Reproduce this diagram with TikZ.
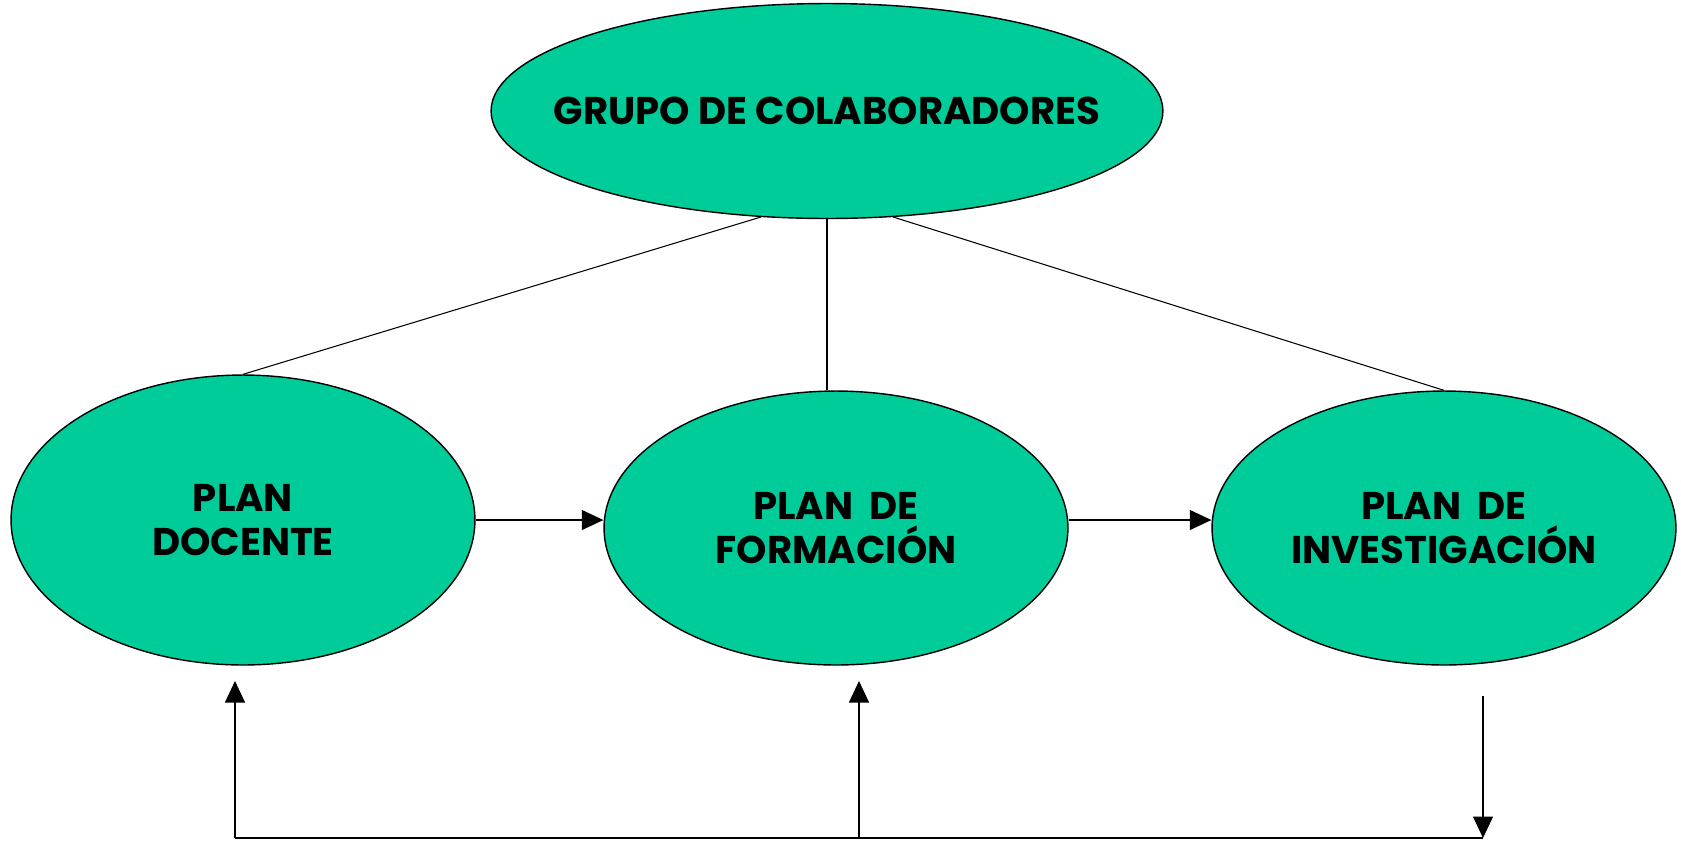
\documentclass[tikz,border=0pt]{standalone}
\usepackage{fontspec}
\setmainfont{Poppins}
\usetikzlibrary{arrows.meta,positioning,shapes.geometric}
\definecolor{verde}{RGB}{0,204,153}
\tikzset{
  plan/.style={ellipse,draw=black,line width=0.8pt,fill=verde,inner sep=0pt,
    minimum width=9.28cm,minimum height=5.48cm,align=center,
    font=\fontsize{22}{25.5}\selectfont\bfseries},
  enlace/.style={line width=0.6pt},
  flecha/.style={line width=0.6pt,-{Triangle[length=0.43cm,width=0.4cm]}}
}
\begin{document}
\begin{tikzpicture}[x=0.02cm,y=-0.02cm]
  \useasboundingbox (0,0) rectangle (1681,840);

  % Nodes of the chart
  \node[plan,minimum width=13.44cm,minimum height=4.3cm,inner xsep=-1cm] (grupo) at (827,111) {GRUPO DE COLABORADORES};
  \node[plan,minimum height=5.8cm] (docente) at (243,520) {PLAN\\DOCENTE};
  \node[plan] (formacion) at (836,528) {PLAN~~DE\\FORMACIÓN};
  \node[plan] (investigacion) at (1444,528) {PLAN~~DE\\INVESTIGACIÓN};

  % Lines from the group to each plan
  \draw[enlace] (grupo.-122) -- (docente.north);
  \draw[enlace] (grupo.south) -- (grupo.south |- formacion.north);
  \draw[enlace] (grupo.-58) -- (investigacion.north);

  % Arrows between the plans
  \draw[flecha] (docente.east) -- (docente.east -| formacion.west);
  \draw[flecha] (formacion.east |- docente.east) -- (investigacion.west |- docente.east);

  % Return loop along the bottom
  \coordinate (retizq) at (235,838);
  \coordinate (retcen) at (859,838);
  \coordinate (retder) at (1483,838);
  \coordinate (salida) at (1483,696);
  \coordinate (llegaizq) at (235,681);
  \coordinate (llegacen) at (859,681);
  \draw[flecha] (salida) -- (retder);
  \draw[enlace] (retder) -- (retizq);
  \draw[flecha] (retizq) -- (llegaizq);
  \draw[flecha] (retcen) -- (llegacen);
\end{tikzpicture}
\end{document}
